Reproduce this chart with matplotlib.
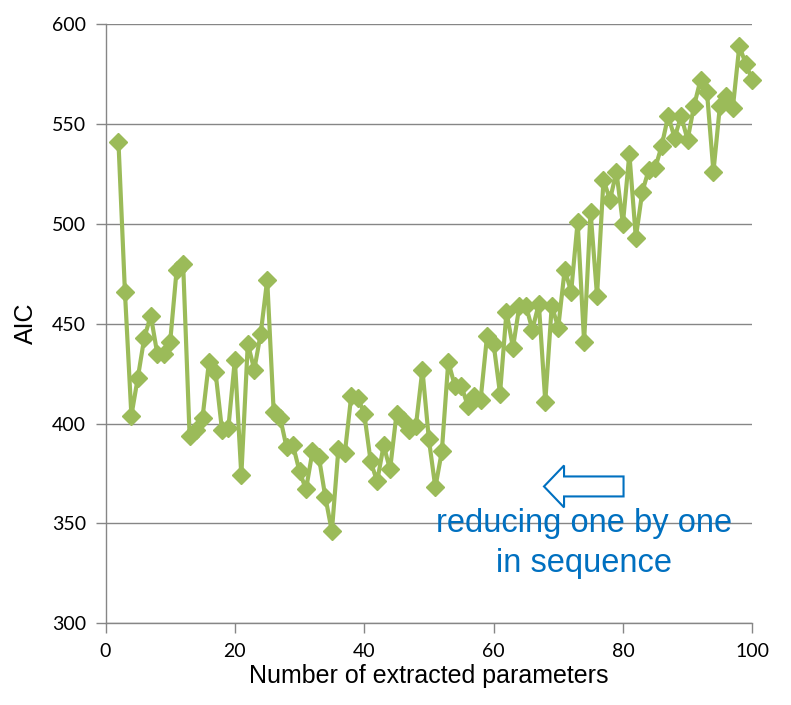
import matplotlib
matplotlib.use('Agg')
import matplotlib.pyplot as plt
from matplotlib.patches import FancyArrow

# number of extracted parameters and the AIC at each
n_params = list(range(2, 101))
aic = [541, 466, 404, 423, 443, 454, 435, 435, 441, 477,
       480, 394, 397, 403, 431, 426, 397, 398, 432, 374,
       440, 427, 445, 472, 406, 403, 388, 389, 376, 367,
       386, 383, 363, 346, 387, 385, 414, 413, 405, 381,
       371, 389, 377, 405, 402, 397, 399, 427, 392, 368,
       386, 431, 419, 419, 409, 414, 412, 444, 440, 415,
       456, 438, 459, 459, 447, 460, 411, 459, 448, 477,
       466, 501, 441, 506, 464, 522, 512, 526, 500, 535,
       493, 516, 527, 528, 539, 554, 543, 554, 542, 559,
       572, 566, 526, 559, 564, 558, 589, 580, 572]

green = '#9BBB59'
blue = '#0070C0'
grey = '#868686'

fig = plt.figure(figsize=(7.91, 7.05), dpi=100)
ax = fig.add_axes([0.1334, 0.1159, 0.8176, 0.8501])

ax.plot(n_params, aic, color=green, lw=3, marker='D', markersize=9.5,
        markeredgecolor=green, zorder=3, clip_on=False)

ax.set_xlim(0, 100)
ax.set_ylim(300, 600)
ax.set_xticks(range(0, 101, 20))
ax.set_yticks(range(300, 601, 50))
ax.yaxis.grid(True, color=grey, lw=1)
ax.set_axisbelow(True)
for s in ['top', 'right']:
    ax.spines[s].set_visible(False)
for s in ['left', 'bottom']:
    ax.spines[s].set_color(grey)
    ax.spines[s].set_linewidth(1)
ax.tick_params(direction='out', length=7, width=1, color=grey,
               labelsize=14, pad=7)
for lab in ax.get_xticklabels() + ax.get_yticklabels():
    lab.set_fontfamily('Lato')

ax.set_xlabel('Number of extracted parameters', fontsize=18,
              family='Liberation Sans', labelpad=3)
ax.set_ylabel('AIC', fontsize=18, family='Liberation Sans', labelpad=10)

# hollow arrow + note
arr = FancyArrow(80.1, 368.5, -12.3, 0, width=10, head_width=21,
                 head_length=3.1, length_includes_head=True, fill=False,
                 edgecolor=blue, lw=1.5, zorder=4)
ax.add_patch(arr)
ax.text(74.0, 340, 'reducing one by one\nin sequence', color=blue,
        fontsize=23.5, family='Liberation Sans', ha='center', va='center',
        linespacing=1.4, zorder=4)

plt.savefig('out.png', dpi=100)
